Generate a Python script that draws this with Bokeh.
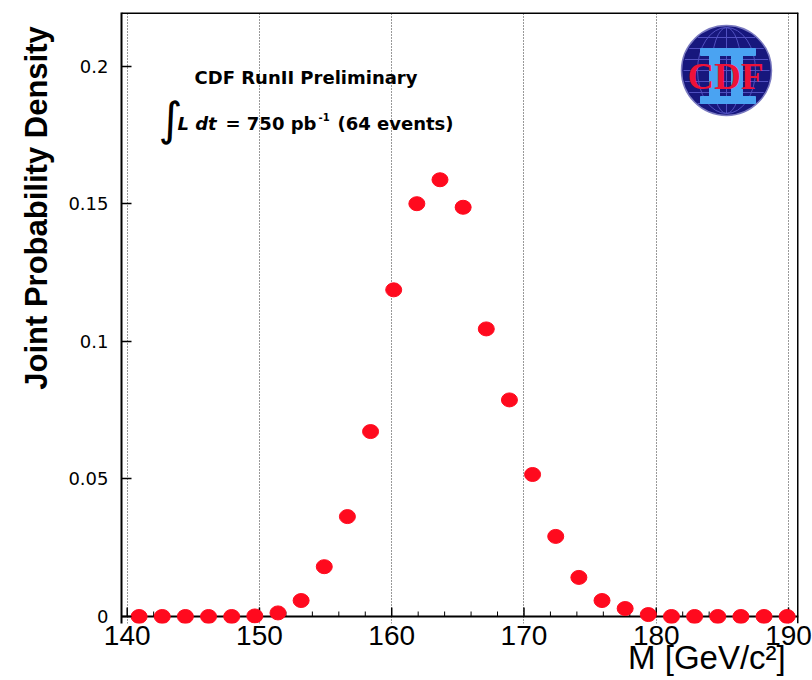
import math
from bokeh.plotting import figure
from bokeh.models import FixedTicker, Label, ColumnDataSource, Span, LinearAxis
from bokeh.embed import file_html
from bokeh.resources import INLINE

# ---- data ----
mass = [140.9, 142.65, 144.4, 146.15, 147.9, 149.65, 151.4, 153.15, 154.9,
        156.65, 158.4, 160.15, 161.9, 163.65, 165.4, 167.15, 168.9, 170.65,
        172.4, 174.15, 175.9, 177.65, 179.4, 181.15, 182.9, 184.65, 186.4,
        188.15, 189.9]
density = [0.0, 0.0, 0.0, 0.0, 0.0, 0.0002, 0.0013, 0.0058, 0.0181,
           0.0363, 0.0672, 0.1187, 0.1500, 0.1587, 0.1487, 0.1045, 0.0787, 0.0516,
           0.0291, 0.0142, 0.0058, 0.0029, 0.0007, 0.0, 0.0, 0.0, 0.0,
           0.0, 0.0]
x_ticks = [140, 150, 160, 170, 180, 190]
x_minor_ticks = [142, 144, 146, 148, 152, 154, 156, 158, 162, 164, 166, 168,
                 172, 174, 176, 178, 182, 184, 186, 188]
y_ticks = [0, 0.05, 0.1, 0.15, 0.2]
y_tick_labels = ["0", "0.05", "0.1", "0.15", "0.2"]

title_text = "CDF RunII Preliminary"
lumi_parts = ["L dt", "= 750 pb", "-1", "(64 events)"]
y_label = "Joint Probability Density"
x_label = "M  [GeV/c\u00b2]"

# ---- layout ----
W, H = 812, 680
L, R, T = 121, 798, 12
ZERO_PX = 616          # pixel row of the zero line
B = 623                # frame bottom (a little below zero so baseline markers show whole)
X_LO, X_HI = 139.569, 190.756
Y_PER_PX = 1.0 / 2752.0
Y_HI = (ZERO_PX - T) * Y_PER_PX
Y_LO = -(B - ZERO_PX) * Y_PER_PX


def px_x(px):
    return X_LO + (px - L) * (X_HI - X_LO) / (R - L)


def px_y(py):
    return (ZERO_PX - py) * Y_PER_PX


p = figure(width=W, height=H, x_range=(X_LO, X_HI), y_range=(Y_LO, Y_HI),
           output_backend="svg", toolbar_location=None,
           min_border_left=L, min_border_right=W - R,
           min_border_top=T, min_border_bottom=H - B)
p.background_fill_color = "white"
p.border_fill_color = "white"
p.outline_line_color = None

# x axis (labels from the axis, ticks drawn on the zero line below)
xa = p.xaxis[0]
xa.ticker = FixedTicker(ticks=x_ticks, minor_ticks=x_minor_ticks)
xa.axis_line_color = None
xa.major_tick_line_color = None
xa.minor_tick_line_color = None
xa.major_tick_in = 0
xa.major_tick_out = 0
xa.minor_tick_in = 0
xa.minor_tick_out = 0
xa.major_label_text_font = "Liberation Sans"
xa.major_label_text_font_size = "28px"
xa.major_label_text_color = "black"
xa.major_label_standoff = 2

# y axis
ya = p.yaxis[0]
ya.ticker = FixedTicker(ticks=y_ticks, minor_ticks=[])
ya.major_label_overrides = dict(zip(y_ticks, y_tick_labels))
ya.major_tick_in = 10
ya.major_tick_out = 0
ya.minor_tick_in = 0
ya.minor_tick_out = 0
ya.axis_line_width = 2
ya.major_tick_line_width = 1.5
ya.major_label_text_font = "DejaVu Sans"
ya.major_label_text_font_size = "18px"
ya.major_label_text_color = "black"
ya.major_label_standoff = 13


def title_axis(pos, text, **kw):
    ax = LinearAxis(ticker=FixedTicker(ticks=[pos], minor_ticks=[]),
                    major_label_overrides={pos: text},
                    axis_line_color=None, major_tick_line_color=None,
                    minor_tick_line_color=None, major_tick_in=0, major_tick_out=0,
                    minor_tick_in=0, minor_tick_out=0,
                    major_label_text_font="Liberation Sans",
                    major_label_text_color="black", **kw)
    return ax


# axis titles, placed where the reference has them (top of y axis, right of x axis)
y_title_axis = title_axis(px_y(207.5), y_label, major_label_orientation="vertical",
                          major_label_text_font_style="bold",
                          major_label_text_font_size="31px",
                          major_label_standoff=12)
p.add_layout(y_title_axis, "left")
x_title_axis = title_axis(px_x(711), x_label, major_label_text_font_size="33px",
                          major_label_standoff=-9)
p.add_layout(x_title_axis, "below")

# grid
p.xgrid.ticker = FixedTicker(ticks=x_ticks)
p.xgrid.grid_line_color = "#333333"
p.xgrid.grid_line_dash = "1 2"
p.xgrid.grid_line_width = 1
p.ygrid.visible = False

# frame lines: zero line, top and right border
p.add_layout(Span(location=0, dimension="width", line_color="black",
                  line_width=2, level="underlay"))
p.add_layout(Span(location=Y_HI, dimension="width", line_color="black", line_width=3))
p.add_layout(Span(location=X_HI, dimension="height", line_color="black", line_width=3))

# x ticks on the zero line
major_len = 9 * Y_PER_PX
minor_len = 5 * Y_PER_PX
p.segment(x0=x_ticks, y0=[0] * len(x_ticks), x1=x_ticks,
          y1=[major_len] * len(x_ticks), line_color="black", line_width=1.5)
p.segment(x0=x_minor_ticks, y0=[0] * len(x_minor_ticks), x1=x_minor_ticks,
          y1=[minor_len] * len(x_minor_ticks), line_color="black", line_width=1)

# points
src = ColumnDataSource(dict(mass=mass, density=density))
p.ellipse(x="mass", y="density", width=16, height=14,
          width_units="screen", height_units="screen",
          fill_color="#ff0a1e", line_color="#ff0a1e", source=src)


def add_label(**kw):
    kw.setdefault("text_align", "left")
    kw.setdefault("text_baseline", "alphabetic")
    kw.setdefault("text_color", "black")
    lab = Label(**kw)
    p.add_layout(lab)
    return lab


# texts
add_label(x=px_x(194), y=px_y(77), text=title_text, text_font="DejaVu Sans",
          text_font_style="bold", text_font_size="18px")
add_label(x=px_x(158), y=px_y(118), text="\u222b", text_font="DejaVu Sans",
          text_font_size="46px", text_baseline="middle")
add_label(x=px_x(177), y=px_y(123), text=lumi_parts[0], text_font="DejaVu Sans",
          text_font_style="bold italic", text_font_size="18px")
add_label(x=px_x(225), y=px_y(123), text=lumi_parts[1], text_font="DejaVu Sans",
          text_font_style="bold", text_font_size="18px")
add_label(x=px_x(318), y=px_y(116), text=lumi_parts[2], text_font="DejaVu Sans",
          text_font_style="bold", text_font_size="10px")
add_label(x=px_x(337), y=px_y(123), text=lumi_parts[3], text_font="DejaVu Sans",
          text_font_style="bold", text_font_size="18px")

# CDF logo
cx, cy, rad = 726, 70, 45
p.scatter(x=[px_x(cx)], y=[px_y(cy)], size=2 * rad, marker="circle",
          fill_color="#17177d", line_color="#7a7ac0", line_width=1.5)
seg_x0, seg_x1, seg_y = [], [], []
for dy in (-33, -22, -11, 0, 11, 22, 33):
    half = math.sqrt(rad * rad - dy * dy) - 2
    seg_x0.append(px_x(cx - half))
    seg_x1.append(px_x(cx + half))
    seg_y.append(px_y(cy + dy))
p.segment(x0=seg_x0, y0=seg_y, x1=seg_x1, y1=seg_y, line_color="#5050c0", line_width=1)
for w in (30, 58):
    p.ellipse(x=[px_x(cx)], y=[px_y(cy)], width=w, height=2 * rad - 4,
              width_units="screen", height_units="screen",
              fill_color=None, line_color="#5050c0", line_width=1)
p.segment(x0=[px_x(cx)], y0=[px_y(cy - rad + 2)], x1=[px_x(cx)], y1=[px_y(cy + rad - 2)],
          line_color="#5050c0", line_width=1)
blue = "#4aa3f2"
p.quad(left=[px_x(700), px_x(700), px_x(709), px_x(731)],
       right=[px_x(755), px_x(755), px_x(719), px_x(742)],
       top=[px_y(48), px_y(96), px_y(54), px_y(54)],
       bottom=[px_y(55), px_y(103), px_y(97), px_y(97)],
       fill_color=blue, line_color=blue)
add_label(x=px_x(725), y=px_y(76), text="CDF", text_font="Liberation Serif",
          text_font_style="bold", text_font_size="37px", text_align="center",
          text_baseline="middle", text_color="#ee1238")

open("out.html", "w").write(file_html(p, INLINE))
